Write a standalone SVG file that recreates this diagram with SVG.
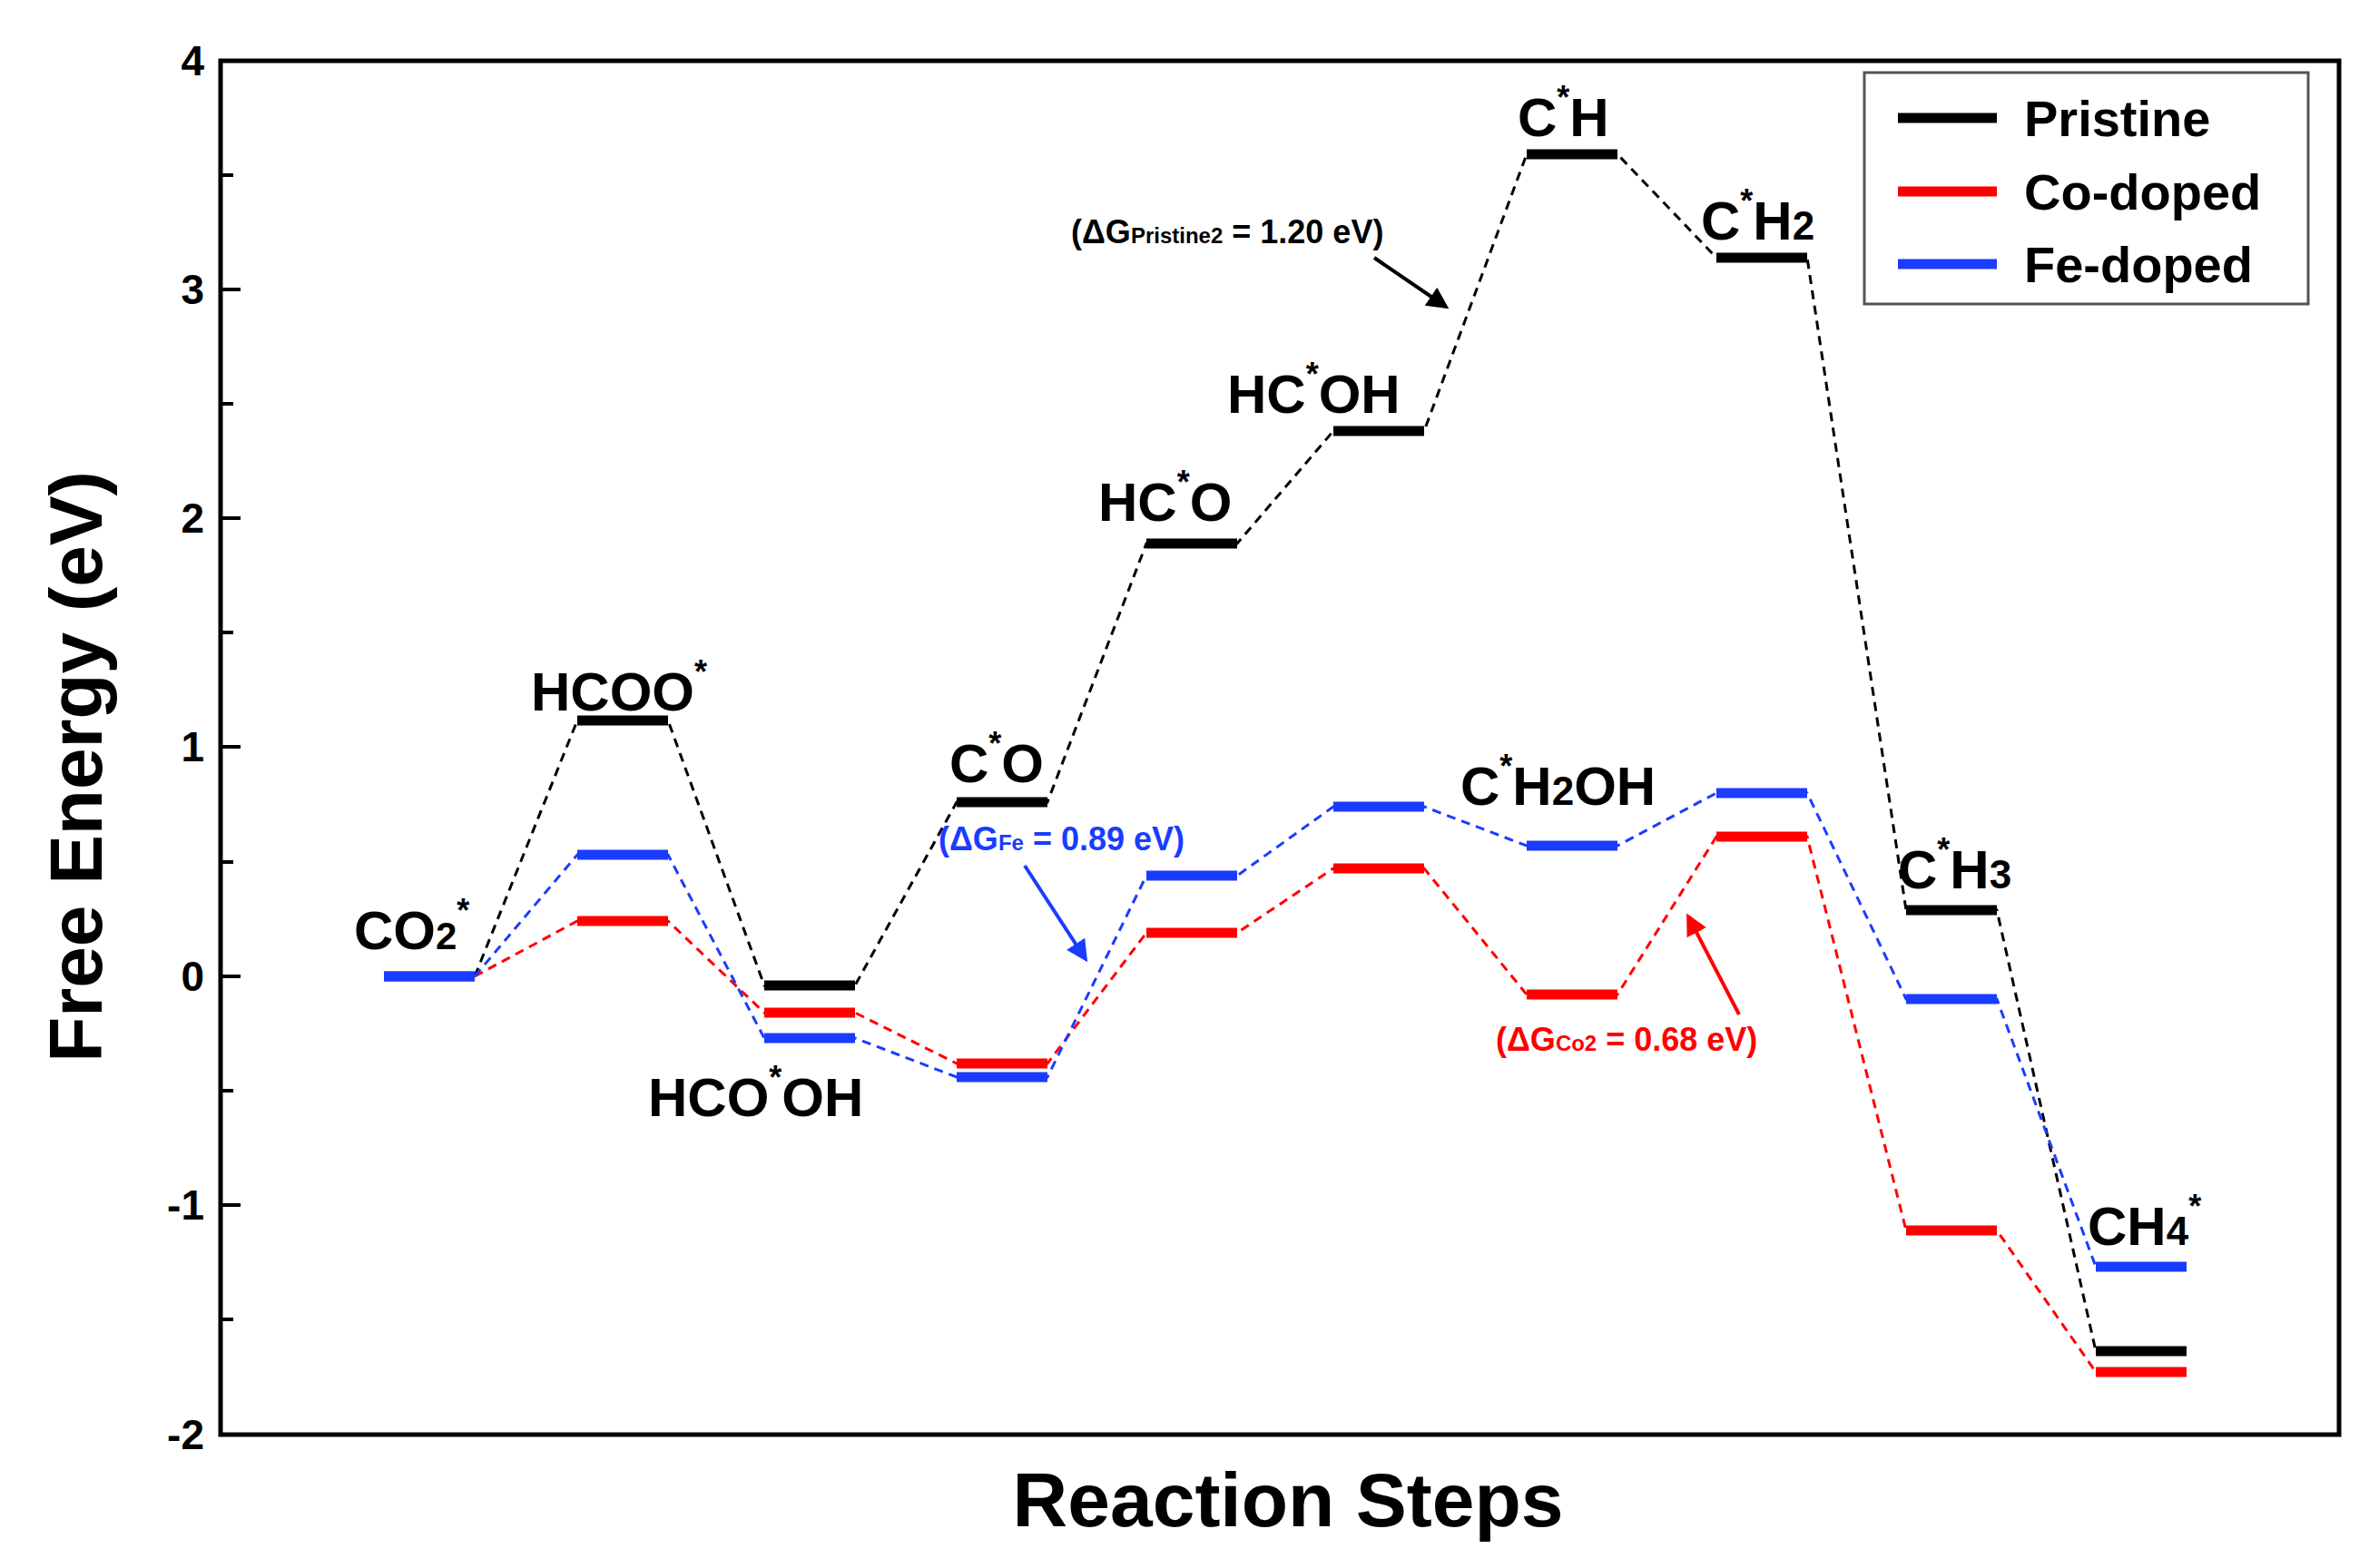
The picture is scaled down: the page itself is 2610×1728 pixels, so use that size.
<svg xmlns="http://www.w3.org/2000/svg" width="2610" height="1728" viewBox="0 0 2610 1728">
<style>
text{font-family:"Liberation Sans",Arial,sans-serif;font-weight:bold;fill:#000}
.lv{stroke-width:11;fill:none}
.k{stroke:#000}.r{stroke:#f00}.b{stroke:#1a3cff}
.d{stroke-width:3;stroke-dasharray:10 7;fill:none}
.lab{font-size:60px}
.ann{font-size:36px}
.tk{font-size:46px}
</style>
<defs>
<marker id="ak" markerWidth="6" markerHeight="6" refX="5" refY="3" orient="auto"><path d="M0,0 L6,3 L0,6z" fill="#000"/></marker>
<marker id="ab" markerWidth="6" markerHeight="6" refX="5" refY="3" orient="auto"><path d="M0,0 L6,3 L0,6z" fill="#1a3cff"/></marker>
<marker id="ar" markerWidth="6" markerHeight="6" refX="5" refY="3" orient="auto"><path d="M0,0 L6,3 L0,6z" fill="#f00"/></marker>
</defs>
<g id="axes">
<rect x="243" y="67" width="2334" height="1514" fill="none" stroke="#000" stroke-width="5"/>
<g stroke="#000" stroke-width="4">
<path d="M243 67h22M243 193h14M243 319h22M243 445h14M243 571h22M243 697h14M243 823h22M243 950h14M243 1076h22M243 1202h14M243 1328h22M243 1454h14M243 1581h22"/>
</g>
<g class="tk" text-anchor="end">
<text x="225" y="83">4</text><text x="225" y="335">3</text><text x="225" y="587">2</text><text x="225" y="839">1</text><text x="225" y="1092">0</text><text x="225" y="1344">-1</text><text x="225" y="1597">-2</text>
</g>
<text transform="translate(112,845) rotate(-90)" text-anchor="middle" font-size="82">Free Energy (eV)</text>
<text x="1419" y="1682" text-anchor="middle" font-size="84">Reaction Steps</text>
</g>
<g id="connectors">
<polyline class="d k" points="523,1076 636,794 736,794 842,1086 942,1086 1054,884 1154,884 1263,599 1363,599 1469,475 1569,475 1682,170 1782,170 1891,284 1991,284 2100,1003 2200,1003 2309,1489"/>
<polyline class="d r" points="523,1076 636,1015 736,1015 842,1116 942,1116 1054,1172 1154,1172 1263,1028 1363,1028 1469,957 1569,957 1682,1096 1782,1096 1891,922 1991,922 2100,1356 2200,1356 2309,1512"/>
<polyline class="d b" points="523,1076 636,942 736,942 842,1144 942,1144 1054,1187 1154,1187 1263,965 1363,965 1469,889 1569,889 1682,932 1782,932 1891,874 1991,874 2100,1101 2200,1101 2309,1396"/>
<line x1="1514" y1="284" x2="1593" y2="338" stroke="#000" stroke-width="4" marker-end="url(#ak)"/>
<line x1="1129" y1="954" x2="1196" y2="1057" stroke="#1a3cff" stroke-width="4" marker-end="url(#ab)"/>
<line x1="1916" y1="1118" x2="1860" y2="1010" stroke="#f00" stroke-width="4" marker-end="url(#ar)"/>
</g>
<g id="pristine" class="lv k">
<path d="M636 794h100M842 1086h100M1054 884h100M1263 599h100M1469 475h100M1682 170h100M1891 284h100M2100 1003h100M2309 1489h100"/>
</g>
<g id="co-doped" class="lv r">
<path d="M423 1076h100M636 1015h100M842 1116h100M1054 1172h100M1263 1028h100M1469 957h100M1682 1096h100M1891 922h100M2100 1356h100M2309 1512h100"/>
</g>
<g id="fe-doped" class="lv b">
<path d="M423 1076h100M636 942h100M842 1144h100M1054 1187h100M1263 965h100M1469 889h100M1682 932h100M1891 874h100M2100 1101h100M2309 1396h100"/>
</g>
<g id="labels" class="lab">
<text x="390" y="1046">CO<tspan font-size="42">2</tspan><tspan font-size="36" dy="-30">*</tspan></text>
<text x="585" y="783">HCOO<tspan font-size="36" dy="-30">*</tspan></text>
<text x="714" y="1230">HCO<tspan font-size="36" dy="-30">*</tspan><tspan dy="30">OH</tspan></text>
<text x="1046" y="862">C<tspan font-size="36" dy="-30">*</tspan><tspan dy="30">O</tspan></text>
<text x="1210" y="574">HC<tspan font-size="36" dy="-30">*</tspan><tspan dy="30">O</tspan></text>
<text x="1352" y="455">HC<tspan font-size="36" dy="-30">*</tspan><tspan dy="30">OH</tspan></text>
<text x="1672" y="150">C<tspan font-size="36" dy="-30">*</tspan><tspan dy="30">H</tspan></text>
<text x="1874" y="264">C<tspan font-size="36" dy="-30">*</tspan><tspan dy="30">H</tspan><tspan font-size="44">2</tspan></text>
<text x="1609" y="887">C<tspan font-size="36" dy="-30">*</tspan><tspan dy="30">H</tspan><tspan font-size="44">2</tspan>OH</text>
<text x="2091" y="979">C<tspan font-size="36" dy="-30">*</tspan><tspan dy="30">H</tspan><tspan font-size="44">3</tspan></text>
<text x="2300" y="1372">CH<tspan font-size="44">4</tspan><tspan font-size="36" dy="-30">*</tspan></text>
</g>
<g id="annotations" class="ann">
<text x="1180" y="268">(ΔG<tspan font-size="24">Pristine2</tspan> = 1.20 eV)</text>
<text x="1034" y="937" fill="#1a3cff" style="fill:#1a3cff">(ΔG<tspan font-size="24">Fe</tspan> = 0.89 eV)</text>
<text x="1648" y="1158" style="fill:#f00">(ΔG<tspan font-size="24">Co2</tspan> = 0.68 eV)</text>
</g>
<g id="legend">
<rect x="2054" y="80" width="489" height="255" fill="#fff" stroke="#555" stroke-width="3"/>
<path d="M2091 130h109" class="lv k"/><path d="M2091 211h109" class="lv r"/><path d="M2091 291h109" class="lv b"/>
<text x="2230" y="150" font-size="56">Pristine</text>
<text x="2230" y="231" font-size="56">Co-doped</text>
<text x="2230" y="311" font-size="56">Fe-doped</text>
</g>
</svg>
